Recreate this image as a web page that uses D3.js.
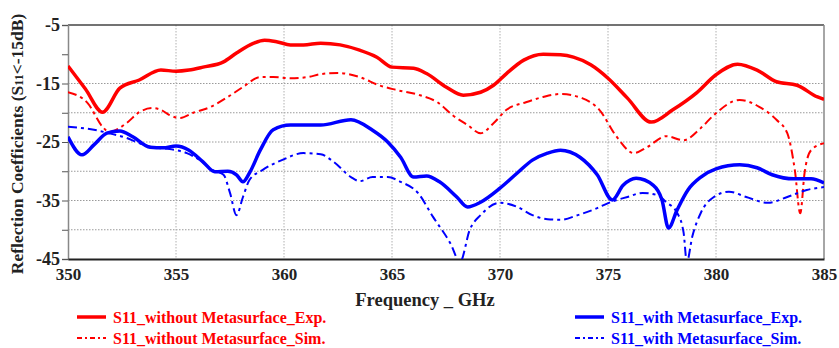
<!DOCTYPE html>
<html>
<head>
<meta charset="utf-8">
<script src="https://cdn.jsdelivr.net/npm/d3@7"></script>
<style>
  body { margin: 0; background: #fff; }
  svg text { font-family: "Liberation Serif", "Times New Roman", "DejaVu Serif", serif; font-weight: bold; }
</style>
</head>
<body>
<div id="chart"></div>
<script>
// S11 without metasurface, measured
const woExpFreq = [350.0, 350.8, 351.6, 352.4, 353.3, 354.3, 355.0, 355.6, 356.25, 357.2, 357.8, 358.6, 359.1, 359.7, 360.3, 360.9, 361.7, 362.6, 363.5, 364.3, 365.0, 366.0, 366.6, 367.5, 368.3, 369.1, 369.7, 370.3, 371.1, 372.0, 372.8, 373.4, 374.2, 375.0, 375.9, 377.0, 378.0, 379.1, 380.0, 381.0, 381.9, 382.8, 383.75, 384.7, 385.0];
const woExpS11 = [-12.0, -15.9, -19.9, -15.8, -14.4, -12.7, -12.9, -12.7, -12.2, -11.3, -9.8, -8.1, -7.6, -7.9, -8.4, -8.4, -8.1, -8.4, -9.3, -10.5, -12.2, -12.4, -13.3, -15.6, -17.0, -16.5, -15.3, -13.3, -11.0, -10.0, -10.1, -10.5, -11.8, -14.1, -17.5, -21.6, -19.5, -16.6, -13.5, -11.7, -12.7, -14.7, -15.3, -17.3, -17.7];

// S11 without metasurface, simulated
const woSimFreq = [350.0, 350.9, 351.6, 351.9, 352.7, 353.3, 353.9, 354.3, 354.7, 355.2, 355.8, 356.6, 357.4, 358.1, 358.9, 359.5, 360.3, 361.1, 361.7, 362.5, 363.5, 364.4, 365.2, 366.3, 367.1, 367.8, 368.5, 369.1, 369.7, 370.3, 371.2, 372.0, 372.8, 373.8, 374.6, 375.4, 376.2, 376.8, 377.7, 378.5, 379.3, 379.9, 381.1, 382.0, 382.8, 383.3, 383.65, 383.9, 384.1, 384.4, 385.0];
const woSimS11 = [-16.5, -18.3, -22.4, -23.3, -21.8, -19.9, -19.2, -19.5, -20.4, -20.9, -20.0, -19.0, -17.3, -15.6, -13.9, -13.9, -14.1, -13.9, -13.4, -13.2, -13.9, -15.3, -16.1, -17.0, -18.2, -20.4, -22.1, -23.5, -21.8, -19.5, -18.2, -17.3, -16.8, -17.5, -19.5, -24.1, -26.9, -25.9, -24.0, -24.7, -22.6, -20.4, -17.8, -19.0, -21.2, -23.5, -29.8, -37.2, -30.3, -26.4, -25.2];

// S11 with metasurface, measured
const wExpFreq = [350.0, 350.65, 351.2, 351.8, 352.4, 353.0, 353.8, 354.4, 355.0, 355.6, 356.25, 356.8, 357.4, 357.8, 358.1, 358.4, 358.9, 359.5, 360.3, 361.1, 361.7, 363.1, 364.1, 364.8, 365.4, 366.0, 366.6, 367.2, 368.0, 368.5, 369.1, 370.0, 370.8, 371.5, 372.2, 372.8, 373.7, 374.5, 375.2, 375.7, 376.3, 377.1, 377.5, 377.8, 378.2, 378.7, 379.3, 380.0, 381.1, 381.9, 382.6, 383.6, 384.4, 385.0];
const wExpS11 = [-24.1, -27.2, -25.5, -23.5, -23.1, -24.1, -25.9, -26.0, -25.7, -26.4, -28.4, -30.1, -30.0, -30.6, -31.8, -30.3, -26.4, -22.9, -22.1, -22.1, -22.1, -21.2, -23.0, -25.0, -27.6, -31.0, -30.8, -31.8, -34.4, -36.1, -35.3, -32.9, -30.3, -28.1, -26.9, -26.4, -27.6, -30.6, -34.9, -32.4, -31.2, -32.4, -34.9, -39.7, -36.6, -33.2, -31.0, -29.6, -28.9, -29.4, -30.6, -31.3, -31.3, -32.0];

// S11 with metasurface, simulated
const wSimFreq = [350.0, 351.2, 351.9, 352.7, 353.3, 353.9, 354.7, 355.5, 356.1, 356.7, 357.2, 357.5, 357.8, 358.1, 358.4, 359.0, 359.9, 360.9, 361.7, 362.3, 363.1, 363.5, 364.1, 364.8, 365.4, 366.2, 366.9, 367.7, 368.15, 368.6, 369.1, 370.0, 370.8, 371.5, 372.2, 372.8, 373.6, 374.5, 375.1, 375.9, 376.6, 377.3, 377.7, 378.2, 378.5, 378.65, 378.9, 379.3, 379.9, 380.6, 381.4, 382.4, 383.3, 384.2, 385.0];
const wSimS11 = [-22.4, -22.9, -23.5, -24.3, -25.2, -25.9, -26.2, -26.9, -28.1, -29.8, -30.6, -33.7, -37.5, -34.4, -31.5, -29.8, -28.1, -26.9, -27.1, -28.4, -31.0, -31.7, -31.0, -31.0, -31.8, -33.7, -37.8, -42.3, -45.5, -40.0, -37.5, -35.4, -36.1, -37.5, -38.2, -38.3, -37.5, -36.3, -35.3, -34.4, -33.7, -34.1, -35.3, -37.1, -40.5, -45.5, -41.2, -37.1, -34.4, -33.5, -34.4, -35.4, -34.4, -33.2, -32.7];

const xTicks = [350, 355, 360, 365, 370, 375, 380, 385];
const yTicks = [-5, -15, -25, -35, -45];
const yMinor = [-10, -20, -30, -40];
const gridY = [-15, -20, -25, -30, -35, -40];
const gridX = [355, 360, 365, 370, 375, 380];

const series = [
  { name: "S11_without Metasurface_Exp.", f: woExpFreq, v: woExpS11, color: "#ff0000", dash: null, w: 3.5 },
  { name: "S11_without Metasurface_Sim.", f: woSimFreq, v: woSimS11, color: "#ff0000", dash: "9,4,3,4", w: 2 },
  { name: "S11_with Metasurface_Exp.", f: wExpFreq, v: wExpS11, color: "#0000ff", dash: null, w: 3.5 },
  { name: "S11_with Metasurface_Sim.", f: wSimFreq, v: wSimS11, color: "#0000ff", dash: "9,4,3,4", w: 2 }
];

const W = 839, H = 348;
const mLeft = 68, mRight = 824, mTop = 25, mBottom = 259;
const serif = "'Liberation Serif', 'Times New Roman', serif";

const svg = d3.select("#chart").append("svg")
  .attr("width", W)
  .attr("height", H);

const x = d3.scaleLinear().domain([350, 385]).range([mLeft, mRight]);
const y = d3.scaleLinear().domain([-45, -5]).range([mBottom, mTop]);

// grid
svg.append("g").selectAll("line")
  .data(gridY).enter().append("line")
  .attr("x1", mLeft).attr("x2", mRight)
  .attr("y1", d => y(d)).attr("y2", d => y(d))
  .attr("stroke", "#9a9a9a").attr("stroke-width", 1)
  .attr("stroke-dasharray", "1.5,1.5");

svg.append("g").selectAll("line")
  .data(gridX).enter().append("line")
  .attr("x1", d => x(d)).attr("x2", d => x(d))
  .attr("y1", mTop).attr("y2", mBottom)
  .attr("stroke", "#b0b0b0").attr("stroke-width", 1)
  .attr("stroke-dasharray", "1.5,1.5");

// frame
svg.append("line").attr("x1", mLeft).attr("x2", mRight).attr("y1", mTop).attr("y2", mTop)
  .attr("stroke", "#444").attr("stroke-width", 1.5);
svg.append("line").attr("x1", mRight).attr("x2", mRight).attr("y1", mTop).attr("y2", mBottom)
  .attr("stroke", "#888").attr("stroke-width", 1.5);

// axes
const yAxis = d3.axisLeft(y).tickValues(yTicks.concat(yMinor)).tickSize(6)
  .tickFormat(d => yTicks.includes(d) ? d : "");
const gy = svg.append("g").attr("transform", `translate(${mLeft},0)`).call(yAxis);
gy.attr("font-family", serif);
gy.select(".domain").attr("stroke", "#888").attr("stroke-width", 1.5);
gy.selectAll(".tick line").attr("stroke", "#555");
gy.selectAll("text").attr("font-size", 18).attr("fill", "#222").attr("x", -8);

const xAxis = d3.axisBottom(x).tickValues(xTicks).tickSize(0).tickFormat(d3.format("d"));
const gx = svg.append("g").attr("transform", `translate(0,${mBottom})`).call(xAxis);
gx.attr("font-family", serif);
gx.select(".domain").attr("stroke", "#222").attr("stroke-width", 2);
gx.selectAll("text").attr("font-size", 17).attr("fill", "#222").attr("y", 9);

// curves
svg.append("clipPath").attr("id", "plot-clip")
  .append("rect").attr("x", mLeft).attr("y", mTop).attr("width", mRight - mLeft).attr("height", mBottom - mTop);

const line = d3.line()
  .x(d => x(d[0]))
  .y(d => y(d[1]))
  .curve(d3.curveMonotoneX);

const plot = svg.append("g").attr("clip-path", "url(#plot-clip)");
series.forEach(s => {
  plot.append("path")
    .datum(s.f.map((f, i) => [f, s.v[i]]))
    .attr("fill", "none")
    .attr("stroke", s.color)
    .attr("stroke-width", s.w)
    .attr("stroke-linejoin", "round")
    .attr("stroke-dasharray", s.dash)
    .attr("d", line);
});

// axis titles
svg.append("text")
  .attr("x", 425).attr("y", 306)
  .attr("text-anchor", "middle")
  .attr("font-family", serif)
  .attr("font-size", 18.5).attr("fill", "#222")
  .text("Frequency _ GHz");

const yt = svg.append("text")
  .attr("transform", "translate(23,144) rotate(-90)")
  .attr("text-anchor", "middle")
  .attr("font-family", serif)
  .attr("font-size", 17.5).attr("fill", "#222");
yt.append("tspan").text("Reflection Coefficients (S");
yt.append("tspan").attr("font-size", 12).text("11");
yt.append("tspan").text("<-15dB)");

// legend
const legendPos = [
  { x: 77, y: 317 }, { x: 77, y: 338 },
  { x: 575, y: 317 }, { x: 575, y: 338 }
];
series.forEach((s, i) => {
  const p = legendPos[i];
  const g = svg.append("g").attr("transform", `translate(${p.x},${p.y})`);
  g.append("line").attr("x1", 0).attr("x2", 29).attr("y1", 0).attr("y2", 0)
    .attr("stroke", s.color).attr("stroke-width", s.w)
    .attr("stroke-dasharray", s.dash ? "5,3,2,3" : null);
  g.append("text").attr("x", 36).attr("y", 5.5)
    .attr("font-family", serif)
    .attr("font-size", 16).attr("fill", s.color)
    .text(s.name);
});
</script>
</body>
</html>
